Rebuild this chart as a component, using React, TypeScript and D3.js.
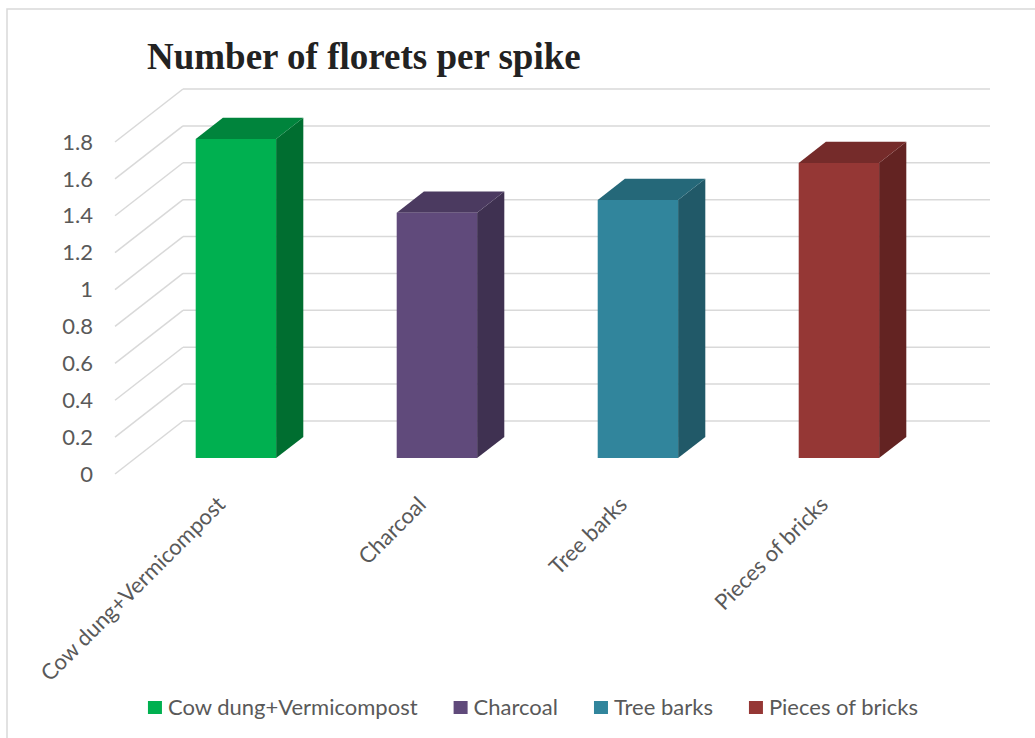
import React, { useLayoutEffect, useRef, useState } from 'react';
import * as d3 from 'd3';

const categories = ['Cow dung+Vermicompost', 'Charcoal', 'Tree barks', 'Pieces of bricks'];
const values = [1.73, 1.33, 1.4, 1.6];
const frontColors = ['#00B050', '#604A7B', '#31859C', '#953735'];
const topColors = ['#00843C', '#4B3A60', '#256879', '#752B2A'];
const sideColors = ['#006E30', '#3F3151', '#215968', '#632322'];
const yTicks = [0, 0.2, 0.4, 0.6, 0.8, 1, 1.2, 1.4, 1.6, 1.8];

const W = 1035;
const H = 738;
const FONT = 'Lato, "Open Sans", sans-serif';
const FS = 22;

export default function App() {
  // oblique 3D frame: front plane + depth vector
  const left = 115;
  const right = 919;
  const frontY0 = 474;
  const depthX = 68;
  const depthY = -53;
  const bar0 = 0.3; // bar depth start (fraction of wall depth)
  const bar1 = 0.7;

  const x = d3.scaleBand<string>().domain(categories).range([left, right]).paddingInner(0.6).paddingOuter(0.3);
  const h = d3.scaleLinear().domain([0, 1.8]).range([0, 332]);

  const pt = (px: number, v: number, f: number) => `${px + f * depthX},${frontY0 - h(v) + f * depthY}`;

  const legendRefs = useRef<(SVGTextElement | null)[]>([]);
  const [widths, setWidths] = useState<number[]>(categories.map(() => 200));
  useLayoutEffect(() => {
    setWidths(legendRefs.current.map(t => (t ? t.getComputedTextLength() : 200)));
  }, []);

  const sq = 14;
  const sqGap = 6;
  const itemGap = 36;
  const total = d3.sum(widths) + categories.length * (sq + sqGap) + (categories.length - 1) * itemGap;
  let cursor = 533 - total / 2;
  const legendX = widths.map(w => {
    const s = cursor;
    cursor += sq + sqGap + w + itemGap;
    return s;
  });

  return (
    <div style={{ position: 'absolute', left: 0, top: 0 }}>
      <svg width={W} height={H} style={{ display: 'block', background: '#fff' }}>
        <rect x={7} y={9} width={W + 20} height={H + 20} fill="#fff" stroke="#D9D9D9" strokeWidth={1.5} />

        <text x={147} y={69} fontFamily='"Liberation Serif", "Times New Roman", serif' fontWeight="bold" fontSize={37} fill="#222">
          Number of florets per spike
        </text>

        {/* gridlines: side wall diagonals + back wall */}
        <g stroke="#D9D9D9" strokeWidth={1.5} fill="none">
          {yTicks.map(v => (
            <g key={v}>
              <line x1={left} y1={frontY0 - h(v)} x2={left + depthX} y2={frontY0 - h(v) + depthY} />
              <line x1={left + depthX} y1={frontY0 - h(v) + depthY} x2={right + depthX + 3} y2={frontY0 - h(v) + depthY} />
            </g>
          ))}
        </g>

        <g fontFamily={FONT} fontSize={FS} fill="#595959" textAnchor="end">
          {yTicks.map(v => (
            <text key={v} x={93} y={frontY0 - h(v)} dy="0.35em">{d3.format('~g')(v)}</text>
          ))}
        </g>

        {categories.map((c, i) => {
          const x0 = x(c)!;
          const x1 = x0 + x.bandwidth();
          const v = values[i];
          const front = [pt(x0, 0, bar0), pt(x1, 0, bar0), pt(x1, v, bar0), pt(x0, v, bar0)].join(' ');
          const top = [pt(x0, v, bar0), pt(x1, v, bar0), pt(x1, v, bar1), pt(x0, v, bar1)].join(' ');
          const side = [pt(x1, 0, bar0), pt(x1, 0, bar1), pt(x1, v, bar1), pt(x1, v, bar0)].join(' ');
          return (
            <g key={c}>
              <polygon points={side} fill={sideColors[i]} />
              <polygon points={top} fill={topColors[i]} />
              <polygon points={front} fill={frontColors[i]} />
            </g>
          );
        })}

        <g fontFamily={FONT} fontSize={FS} fill="#595959" textAnchor="end">
          {categories.map(c => {
            const cx = x(c)! + x.bandwidth() / 2 + 11;
            const cy = 506;
            return (
              <text key={c} transform={`translate(${cx},${cy}) rotate(-45)`}>{c}</text>
            );
          })}
        </g>

        <g fontFamily={FONT} fontSize={FS} fill="#595959">
          {categories.map((c, i) => (
            <g key={c} transform={`translate(${legendX[i]},0)`}>
              <rect x={0} y={701} width={sq} height={sq - 1} fill={frontColors[i]} />
              <text ref={el => { legendRefs.current[i] = el; }} x={sq + sqGap} y={715}>{c}</text>
            </g>
          ))}
        </g>
      </svg>
    </div>
  );
}
